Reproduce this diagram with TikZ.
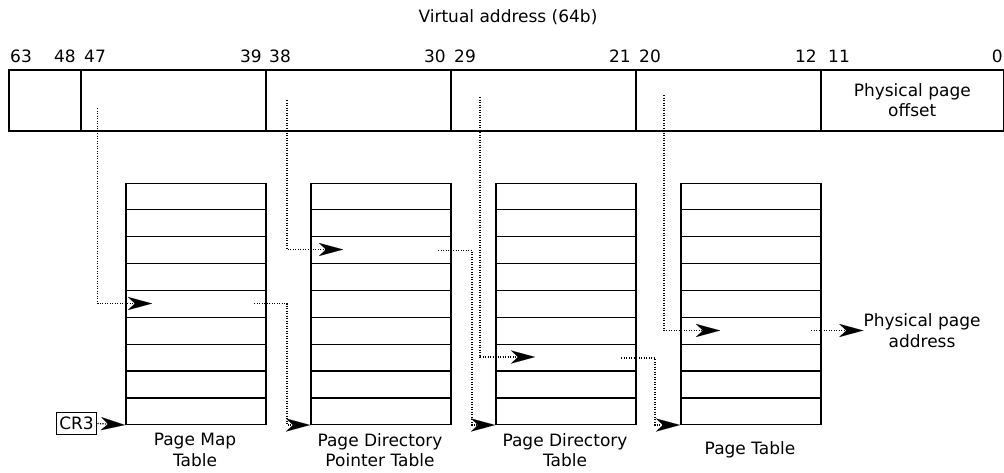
\documentclass[tikz,border=0pt]{standalone}
\usepackage{fontspec}
\setmainfont{DejaVu Sans}
\usetikzlibrary{arrows.meta,calc}
\begin{document}
\begin{tikzpicture}[x=1pt,y=-1pt,
  txt/.style={font=\fontsize{17}{20.5}\selectfont,inner sep=0pt,align=center},
  field/.style={txt,draw,line width=1.5pt,inner sep=0pt,minimum height=61pt,anchor=north west},
  tbl/.style={draw,line width=1.5pt,inner sep=0pt,minimum width=140pt,minimum height=241pt,anchor=north west},
  rowline/.style={line width=1.3pt},
  ptr/.style={line width=1.3pt,dash pattern=on 1.2pt off 1.3pt,-{Stealth[length=24pt,width=13pt,inset=7pt,line width=0.01pt]}},
  regbox/.style={txt,draw,line width=1.3pt,inner xsep=3pt,inner ysep=4.5pt}
  ]
\useasboundingbox (0,0) rectangle (1004,472);

% header
\node[txt] (title) at (508,17) {Virtual address (64b)};

% virtual address fields
\node[field,minimum width=72pt]  (f0) at (8,69) {};
\node[field,minimum width=185pt] (f1) at (80,69) {};
\node[field,minimum width=185pt] (f2) at (265,69) {};
\node[field,minimum width=185pt] (f3) at (450,69) {};
\node[field,minimum width=185pt] (f4) at (635,69) {};
\node[field,minimum width=183pt] (f5) at (820,69) {Physical page\\offset};

% bit numbers
\node[txt,anchor=west] (b63) at (10,56.5) {63};
\node[txt,anchor=east] (b48) at (76,56.5) {48};
\node[txt,anchor=west] (b47) at (84,56.5) {47};
\node[txt,anchor=east] (b39) at (262,56.5) {39};
\node[txt,anchor=west] (b38) at (269,56.5) {38};
\node[txt,anchor=east] (b30) at (446,56.5) {30};
\node[txt,anchor=west] (b29) at (454,56.5) {29};
\node[txt,anchor=east] (b21) at (631,56.5) {21};
\node[txt,anchor=west] (b20) at (639,56.5) {20};
\node[txt,anchor=east] (b12) at (817,56.5) {12};
\node[txt,anchor=west] (b11) at (828,56.5) {11};
\node[txt,anchor=east] (b0)  at (1003,56.5) {0};

% tables
\foreach \k/\xx in {1/125,2/310,3/495,4/680}{
  \node[tbl] (t\k) at (\xx,182.5) {};
  \foreach \i in {1,...,8}{
    \draw[rowline] ($(t\k.north west)!\i/9!(t\k.south west)$) -- ($(t\k.north east)!\i/9!(t\k.south east)$);
  }
}

% table labels
\node[txt] (l1) at (195,450) {Page Map\\Table};
\node[txt] (l2) at (380,450) {Page Directory\\Pointer Table};
\node[txt] (l3) at (565,450) {Page Directory\\Table};
\node[txt] (l4) at (750,450) {Page Table};

% CR3
\node[regbox] (cr3) at (76.5,423.5) {CR3};
\draw[ptr] (cr3.east) -- (t1.south west);

% index pointers from the virtual address fields
\coordinate (s1) at (97.5,108);
\coordinate (e1) at (152,303.5);
\draw[ptr] (s1) |- (e1);

\coordinate (s2) at (287,100);
\coordinate (e2) at (343,249.5);
\draw[ptr] (s2) |- (e2);

\coordinate (s3) at (480,97);
\coordinate (e3) at (535,357);
\draw[ptr] (s3) |- (e3);

\coordinate (s4) at (664,95);
\coordinate (e4) at (720,330.5);
\draw[ptr] (s4) |- (e4);

% entry pointers to next tables
\coordinate (x1) at (254,303.5);
\draw[ptr] (x1) -| ($(t2.south west)+(-23,0)$) -- (t2.south west);
\coordinate (x2) at (438,250.5);
\draw[ptr] (x2) -| ($(t3.south west)+(-23,0)$) -- (t3.south west);
\coordinate (x3) at (621,358);
\draw[ptr] (x3) -| ($(t4.south west)+(-25,0)$) -- (t4.south west);

% physical page address
\node[txt] (ppa) at (922,330.5) {Physical page\\address};
\coordinate (x4) at (811,330.5);
\draw[ptr] (x4) -- (ppa.west);
\end{tikzpicture}
\end{document}
